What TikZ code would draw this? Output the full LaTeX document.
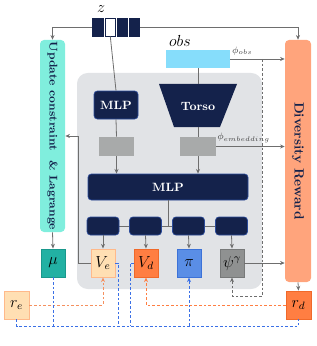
\documentclass[tikz,border=0pt]{standalone}
\usetikzlibrary{arrows.meta,calc}
\definecolor{navy}{HTML}{14224B}
\definecolor{navyb}{HTML}{2A4A9A}
\definecolor{panelc}{HTML}{E1E3E6}
\definecolor{tealL}{HTML}{80EEDD}
\definecolor{salmon}{HTML}{FFA47C}
\definecolor{obsc}{HTML}{86DDFB}
\definecolor{greyb}{HTML}{A8AAAA}
\definecolor{peach}{HTML}{FFDFB3}
\definecolor{peachb}{HTML}{FFB98A}
\definecolor{orng}{HTML}{FF7E42}
\definecolor{orngb}{HTML}{F0692A}
\definecolor{blu}{HTML}{5A8EE6}
\definecolor{blub}{HTML}{3C72D8}
\definecolor{psic}{HTML}{8F9191}
\definecolor{psib}{HTML}{777979}
\definecolor{muc}{HTML}{22B1A3}
\definecolor{mub}{HTML}{1A988C}
\definecolor{linec}{HTML}{6E6E6E}
\definecolor{dblue}{HTML}{3B70E6}
\definecolor{dorng}{HTML}{F5905F}
\begin{document}
\begin{tikzpicture}[x=0.75pt,y=-0.75pt,
  conn/.style={draw=linec,line width=0.6pt},
  arr/.style={conn,-{Stealth[length=3.5pt,width=3pt]}},
  darkbox/.style={draw=navyb,fill=navy,line width=0.5pt,rounded corners=2.5pt,inner sep=0pt,text=white,font=\small\bfseries},
  zblock/.style={draw=navy,fill=navy,line width=0.7pt,minimum width=8pt,minimum height=13.5pt,inner sep=0pt},
  greybox/.style={fill=greyb,draw=none,minimum width=26.5pt,minimum height=14.25pt,inner sep=0pt},
  outbox/.style={line width=0.7pt,minimum width=18pt,minimum height=21pt,inner sep=0pt,font=\large},
  bdash/.style={draw=dblue,dashed,line width=0.6pt,dash pattern=on 2pt off 1.5pt},
  odash/.style={draw=dorng,dashed,line width=0.6pt,dash pattern=on 2pt off 1.5pt},
  gdash/.style={draw=linec,dashed,line width=0.6pt,dash pattern=on 2pt off 1.5pt},
  tipd/.style={-{Stealth[length=3.5pt,width=3pt]}}
]
\useasboundingbox (0,0) rectangle (317,346);

% panel
\fill[panelc,rounded corners=8pt] (77,73) rectangle (262,289);

% side boxes
\node[fill=tealL,rounded corners=3pt,minimum width=18.75pt,minimum height=144pt,inner sep=0pt] (upd) at (52.5,136) {};
\node[rotate=-90,text=navy,font=\fontsize{8.4}{10}\selectfont\bfseries] at (upd.center) {Update constraint\ \ \& Lagrange};
\node[fill=salmon,rounded corners=3pt,minimum width=19.5pt,minimum height=181.5pt,inner sep=0pt] (div) at (298,161) {};
\node[rotate=-90,text=navy,font=\bfseries] at (div.center) {Diversity Reward};

% z
\node[zblock] (zb1) at (98,27) {};
\node[zblock,fill=white] (zb2) at (110.3,27) {};
\node[zblock] (zb3) at (122.5,27) {};
\node[zblock] (zb4) at (134.5,27) {};
\node[font=\large] (zl) at (101,9) {$z$};

% obs
\node[font=\large] (obsl) at (180,41) {$obs$};
\node[fill=obsc,minimum width=48pt,minimum height=13.5pt,inner sep=0pt] (obs) at (198,59) {};

% torso
\fill[navy] (159,84) -- (237,84) -- (220,127) -- (174,127) -- cycle;
\node[text=white,font=\small\bfseries] (torso) at (198,106) {Torso};
\coordinate (ttop) at (198,84);
\coordinate (tbot) at (198,127);

% MLPs
\node[darkbox,minimum width=33pt,minimum height=21pt] (mlp1) at (116,105) {MLP};
\node[greybox] (g1) at (116.5,146.5) {};
\node[greybox,minimum width=27pt] (g2) at (198,146.5) {};
\node[darkbox,minimum width=120pt,minimum height=19.5pt] (mlp2) at (168,187) {MLP};

% heads
\draw[conn] (103,226) -- (231.5,226);
\foreach \n/\x in {h1/103,h2/145.5,h3/188.5,h4/231.5}
  \node[darkbox,minimum width=24pt,minimum height=13.5pt] (\n) at (\x,226) {};
\coordinate (bus) at (168,226);

% outputs
\node[outbox,fill=peach,draw=peachb] (ve) at (103,263) {$V_e$};
\node[outbox,fill=orng,draw=orngb] (vd) at (146,263) {$V_d$};
\node[outbox,fill=blu,draw=blub] (pi) at (189,263) {$\pi$};
\node[outbox,fill=psic,draw=psib] (psi) at (232,263) {$\psi^\gamma$};
\node[outbox,fill=muc,draw=mub] (mu) at (53,263) {$\mu$};
\node[outbox,fill=peach,draw=peachb,minimum width=18.75pt] (re) at (16.5,305) {$r_e$};
\node[outbox,fill=orng,draw=orngb,minimum width=18.75pt] (rd) at (298.5,305) {$r_d$};

% connectors
\draw[arr] (zb1.west) -| (upd.north);
\draw[arr] (zb4.east) -| (div.north);
\draw[conn] (zb2.south) -- (mlp1.north);
\draw[conn] (obs.south) -- (ttop);
\draw[conn] (mlp1.south) -- (g1.north);
\draw[conn] (tbot) -- (g2.north);
\draw[arr] (g1.south) -- (mlp2.north -| g1.south);
\draw[arr] (g2.south) -- (mlp2.north -| g2.south);
\draw[conn] (mlp2.south -| bus) -- (bus);
\foreach \h/\o in {h1/ve,h2/vd,h3/pi,h4/psi}
  \draw[arr] (\h.south) -- (\o.north);
\draw[arr] (obs.east) -- node[pos=0.22,above=-0.5pt,font=\scriptsize,text=black!75] (phio) {$\phi_{obs}$} (obs.east -| div.west);
\draw[arr] (g2.east) -- node[pos=0.4,above=-0.5pt,font=\scriptsize,text=black!75] (phie) {$\phi_{embedding}$} (g2.east -| div.west);
\draw[arr] (psi.east) -- (psi.east -| div.west);
\draw[arr] (div.south) -- (rd.north);
\draw[arr] (upd.south) -- (mu.north);
\coordinate (vl) at (78,136);
\draw[arr] (ve.west) -| (vl) -- (vl -| upd.east);

% dashed
\coordinate (gd) at (262.7,59);
\draw[gdash,tipd] (gd) -- (262.7,296) -| (psi.south);
\draw[odash,tipd] (re.east) -| (ve.south);
\draw[odash,draw=orng,tipd] (rd.west) -| (vd.south);
\coordinate (bl) at (16.5,326);
\coordinate (br) at (298.5,326);
\draw[bdash] (re.south) -- (bl) -- (br) -- (rd.south);
\draw[bdash] (mu.south) -- (mu.south |- bl);
\draw[bdash] (ve.east) -- (118,263) -- (118,326);
\draw[bdash] (vd.west) -- (130,263) -- (130,326);
\draw[bdash,tipd] (pi.south |- bl) -- (pi.south);
\end{tikzpicture}
\end{document}
